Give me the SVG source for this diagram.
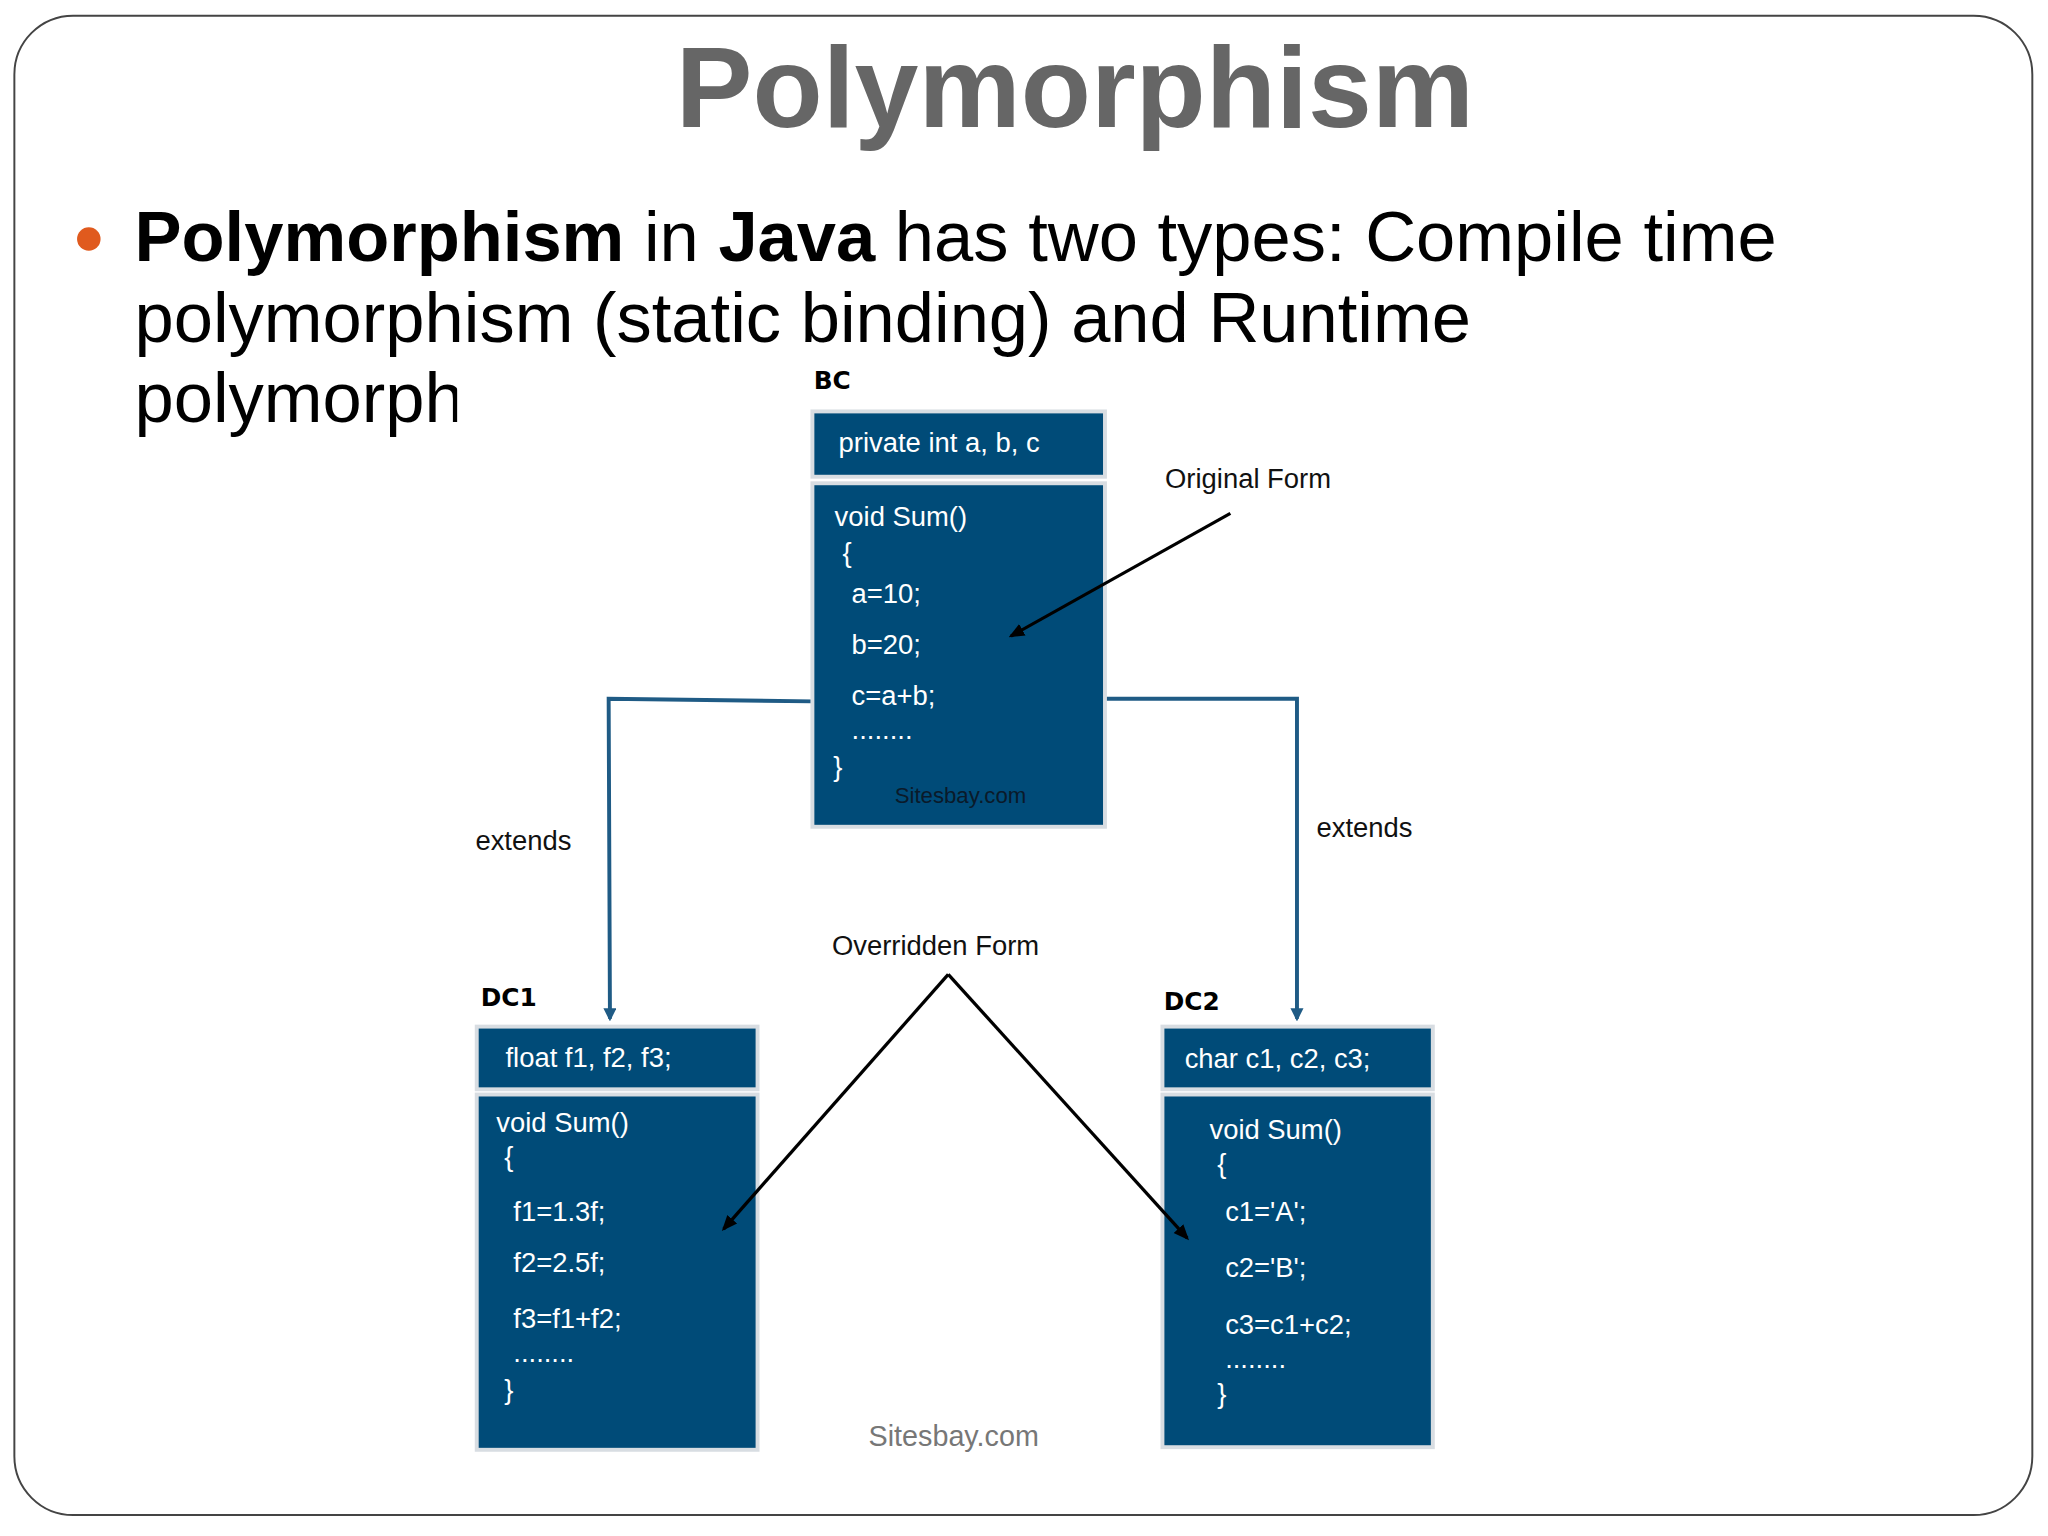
<svg xmlns="http://www.w3.org/2000/svg" width="2048" height="1536" viewBox="0 0 2048 1536">
<style>
.t{font-family:"Liberation Sans",Arial,sans-serif}
.box{fill:#004b78;stroke:#d8dde2;stroke-width:3}
.w{fill:#fff;font-size:21px;font-family:"Liberation Sans",Arial,sans-serif}
.lbl{fill:#111;font-size:21px;font-family:"Liberation Sans",Arial,sans-serif}
.hd{fill:#000;font-size:19px;font-weight:bold;font-family:"DejaVu Sans",sans-serif}
.con{fill:none;stroke:#1f5b85;stroke-width:3}
.blk{fill:none;stroke:#000;stroke-width:2.5}
</style>
<defs>
<marker id="ab" markerWidth="10" markerHeight="10" refX="8" refY="5" orient="auto" markerUnits="userSpaceOnUse"><path d="M0,0 L10,5 L0,10 Z" fill="#1f5b85"/></marker>
<marker id="ak" markerWidth="12" markerHeight="12" refX="10" refY="6" orient="auto" markerUnits="userSpaceOnUse"><path d="M0,1 L12,6 L0,11 Z" fill="#000"/></marker>
</defs>
<rect width="2048" height="1536" fill="#fff"/>
<g transform="scale(1.30612)">
<rect x="11" y="12" width="1545" height="1148" rx="45" fill="#fff" stroke="#444" stroke-width="1.5"/>
<text class="t" x="823" y="97" text-anchor="middle" font-size="88" font-weight="bold" fill="#666">Polymorphism</text>
<circle cx="68" cy="183" r="9" fill="#e05a1e"/>
<text class="t" x="103" y="200" font-size="54" fill="#000"><tspan font-weight="bold">Polymorphism</tspan> in <tspan font-weight="bold">Java</tspan> has two types: Compile time</text>
<text class="t" x="103" y="262" font-size="54" fill="#000">polymorphism (static binding) and Runtime</text>
<text class="t" x="103" y="323" font-size="54" fill="#000">polymorphism</text>
<rect x="350" y="280" width="800" height="840" fill="#fff"/>
<g id="connectors">
<path class="con" d="M622,537 L466,535 L467,780" marker-end="url(#ab)"/>
<path class="con" d="M846,535 L993,535 L993,780" marker-end="url(#ab)"/>
</g>
<g id="BC">
<text class="hd" x="623" y="298">BC</text>
<rect class="box" x="622" y="315" width="224" height="50"/>
<text class="w" x="642" y="346">private int a, b, c</text>
<rect class="box" x="622" y="370" width="224" height="263"/>
<text class="w" x="639" y="403">void Sum()</text>
<text class="w" x="645" y="430">{</text>
<text class="w" x="652" y="462">a=10;</text>
<text class="w" x="652" y="501">b=20;</text>
<text class="w" x="652" y="540">c=a+b;</text>
<text class="w" x="652" y="566">........</text>
<text class="w" x="638" y="594">}</text>
<text class="t" x="685" y="615" font-size="17" fill="#0a1a2a">Sitesbay.com</text>
</g>
<g id="DC1">
<text class="hd" x="368" y="770">DC1</text>
<rect class="box" x="365" y="786" width="215" height="48"/>
<text class="w" x="387" y="817">float f1, f2, f3;</text>
<rect class="box" x="365" y="838" width="215" height="272"/>
<text class="w" x="380" y="867">void Sum()</text>
<text class="w" x="386" y="893">{</text>
<text class="w" x="393" y="935">f1=1.3f;</text>
<text class="w" x="393" y="974">f2=2.5f;</text>
<text class="w" x="393" y="1017">f3=f1+f2;</text>
<text class="w" x="393" y="1043">........</text>
<text class="w" x="386" y="1071">}</text>
</g>
<g id="DC2">
<text class="hd" x="891" y="773">DC2</text>
<rect class="box" x="890" y="786" width="207" height="48"/>
<text class="w" x="907" y="818">char c1, c2, c3;</text>
<rect class="box" x="890" y="838" width="207" height="270"/>
<text class="w" x="926" y="872">void Sum()</text>
<text class="w" x="932" y="898">{</text>
<text class="w" x="938" y="935">c1='A';</text>
<text class="w" x="938" y="978">c2='B';</text>
<text class="w" x="938" y="1021">c3=c1+c2;</text>
<text class="w" x="938" y="1047">........</text>
<text class="w" x="932" y="1074">}</text>
</g>
<g id="annotations">
<text class="lbl" x="892" y="374">Original Form</text>
<path class="blk" d="M942,393 L774,487" marker-end="url(#ak)"/>
<text class="lbl" x="364" y="651">extends</text>
<text class="lbl" x="1008" y="641">extends</text>
<text class="lbl" x="637" y="731">Overridden Form</text>
<path class="blk" d="M726,746 L554,941" marker-end="url(#ak)"/>
<path class="blk" d="M726,746 L909,948" marker-end="url(#ak)"/>
<text class="t" x="665" y="1107" font-size="22" fill="#777">Sitesbay.com</text>
</g>
</g>
</svg>
